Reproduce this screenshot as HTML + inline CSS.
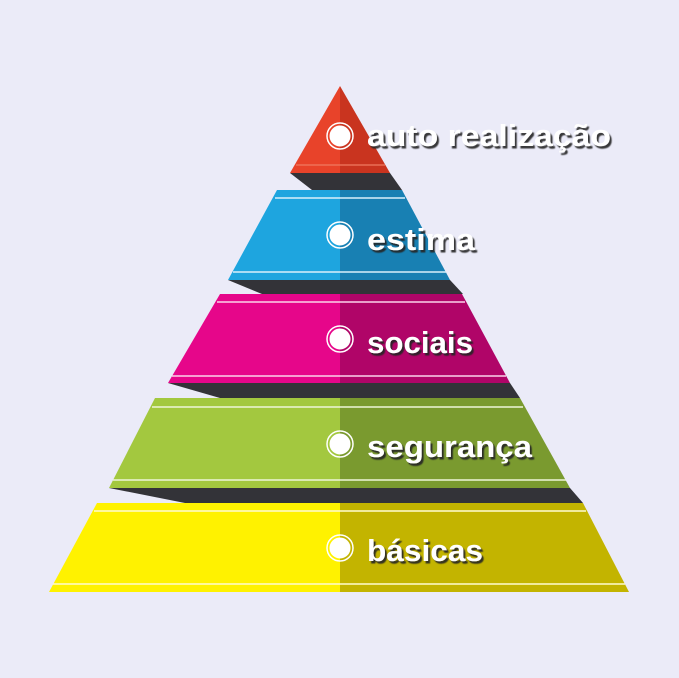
<!DOCTYPE html>
<html><head><meta charset="utf-8"><style>
html,body{margin:0;padding:0;background:#ebebf8;}
svg{display:block}
text{font-family:"Liberation Sans","DejaVu Sans",sans-serif;font-weight:bold;font-size:31px;fill:#fff;}
</style></head><body>
<svg width="679" height="678" viewBox="0 0 679 678" xmlns="http://www.w3.org/2000/svg">
<rect width="679" height="678" fill="#ebebf8"/>
<defs>
<filter id="sh" x="-10%" y="-20%" width="130%" height="150%"><feDropShadow dx="2" dy="2.5" stdDeviation="0.6" flood-color="#222" flood-opacity="0.9"/></filter>
</defs>
<polygon points="290,173 390,173 402,190 312,190" fill="#333338"/>
<polygon points="228,280 450,280 463,294 262,294" fill="#333338"/>
<polygon points="168,383 510,383 520,398 220,398" fill="#333338"/>
<polygon points="109,488 570,488 583,503 185,503" fill="#333338"/>
<polygon points="340,86 340,173 290,173" fill="#e8432a"/>
<polygon points="340,86 390,173 340,173" fill="#c9341f"/>
<line x1="296" y1="165" x2="385" y2="165" stroke="#f07a60" stroke-width="1.2"/>
<polygon points="277,190 340,190 340,280 228,280" fill="#1ea5df"/>
<polygon points="340,190 402,190 450,280 340,280" fill="#1880b3"/>
<line x1="275" y1="198" x2="405" y2="198" stroke="#d8f0fb" stroke-width="1.5"/>
<line x1="233" y1="272" x2="446" y2="272" stroke="#d8f0fb" stroke-width="1.5"/>
<polygon points="220,294 340,294 340,383 168,383" fill="#e6068a"/>
<polygon points="340,294 462,294 510,383 340,383" fill="#b00568"/>
<line x1="217" y1="302" x2="465" y2="302" stroke="#fbd4ea" stroke-width="1.5"/>
<line x1="172" y1="376" x2="506" y2="376" stroke="#fbd4ea" stroke-width="1.5"/>
<polygon points="155,398 340,398 340,488 109,488" fill="#a3c83f"/>
<polygon points="340,398 520,398 570,488 340,488" fill="#7a9a2f"/>
<line x1="152" y1="407" x2="523" y2="407" stroke="#eef6d8" stroke-width="1.5"/>
<line x1="113" y1="480" x2="566" y2="480" stroke="#eef6d8" stroke-width="1.5"/>
<polygon points="97,503 340,503 340,592 49,592" fill="#fff200"/>
<polygon points="340,503 583,503 629,592 340,592" fill="#c3b400"/>
<line x1="94" y1="511" x2="586" y2="511" stroke="#fffbd0" stroke-width="1.5"/>
<line x1="53" y1="584" x2="625" y2="584" stroke="#fffbd0" stroke-width="1.5"/>
<g fill="#fff" stroke="#fff">
<circle cx="340" cy="136" r="10"/><circle cx="340" cy="136" r="13" fill="none" stroke-width="1.5"/>
<circle cx="340" cy="235" r="10"/><circle cx="340" cy="235" r="13" fill="none" stroke-width="1.5"/>
<circle cx="340" cy="339" r="10"/><circle cx="340" cy="339" r="13" fill="none" stroke-width="1.5"/>
<circle cx="340" cy="444" r="10"/><circle cx="340" cy="444" r="13" fill="none" stroke-width="1.5"/>
<circle cx="340" cy="548" r="10"/><circle cx="340" cy="548" r="13" fill="none" stroke-width="1.5"/>
</g>
<g filter="url(#sh)">
<text x="367" y="146" textLength="244" lengthAdjust="spacingAndGlyphs">auto realização</text>
<text x="367" y="250" textLength="108" lengthAdjust="spacingAndGlyphs">estima</text>
<text x="367" y="353" textLength="106" lengthAdjust="spacingAndGlyphs">sociais</text>
<text x="367" y="457" textLength="165" lengthAdjust="spacingAndGlyphs">segurança</text>
<text x="367" y="561" textLength="116" lengthAdjust="spacingAndGlyphs">básicas</text>
</g>
</svg>
</body></html>
